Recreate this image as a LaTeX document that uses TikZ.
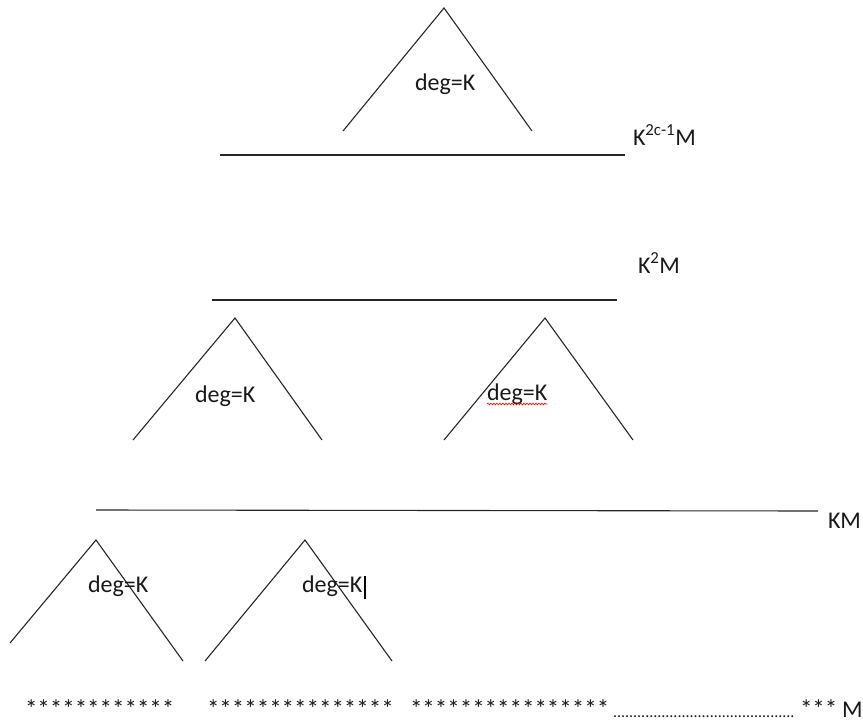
\documentclass[tikz,border=0pt]{standalone}
\usepackage{fontspec}
\setmainfont{Carlito}
\usetikzlibrary{decorations.pathmorphing}
\begin{document}
\begin{tikzpicture}[x=1pt,y=-1pt,
  edge/.style={draw=black!85,line width=1.1pt},
  lbl/.style={anchor=base west,inner sep=0pt,outer sep=0pt,font=\fontsize{24}{28}\selectfont,text=black!90},
  starlbl/.style={lbl,font=\fontsize{25}{28}\selectfont},
  dotlbl/.style={anchor=base west,inner sep=0pt,outer sep=0pt,font=\fontsize{16}{18}\selectfont,text=black!90}]
\useasboundingbox (0,0) rectangle (863,723);
% triangles
\coordinate (t1a) at (444,8);   \coordinate (t1l) at (343,131); \coordinate (t1r) at (532,131);
\coordinate (t2a) at (235,318); \coordinate (t2l) at (133,440); \coordinate (t2r) at (322,440);
\coordinate (t3a) at (545,318); \coordinate (t3l) at (444,440); \coordinate (t3r) at (633,440);
\coordinate (t4a) at (96,540);  \coordinate (t4l) at (10,643);  \coordinate (t4r) at (183,661);
\coordinate (t5a) at (305,540); \coordinate (t5l) at (205,661); \coordinate (t5r) at (392,661);
\draw[edge] (t1l) -- (t1a) -- (t1r);
\draw[edge] (t2l) -- (t2a) -- (t2r);
\draw[edge] (t3l) -- (t3a) -- (t3r);
\draw[edge] (t4l) -- (t4a) -- (t4r);
\draw[edge] (t5l) -- (t5a) -- (t5r);
% level lines
\coordinate (l1a) at (220,155); \coordinate (l1b) at (625,155);
\coordinate (l2a) at (212,300); \coordinate (l2b) at (617,300);
\coordinate (l3a) at (96,510);  \coordinate (l3b) at (818,511);
\draw[edge] (l1a) -- (l1b);
\draw[edge] (l2a) -- (l2b);
\draw[edge] (l3a) -- (l3b);
% degree labels
\node[lbl] (d1) at (415,90) {deg=K};
\node[lbl] (d2) at (195,402) {deg=K};
\node[lbl] (d3) at (487,400) {deg=K};
\node[lbl] (d4) at (88,592) {deg=K};
\node[lbl] (d5) at (302,592) {deg=K};
\draw[red,line width=0.6pt,decorate,decoration={snake,amplitude=0.9pt,segment length=3pt}] ([yshift=-4pt]d3.base west) -- ([yshift=-4pt]d3.base east);
\draw[black,line width=1.6pt] ([xshift=3pt,yshift=16pt]d5.base east) -- ([xshift=3pt,yshift=-7pt]d5.base east);
% level labels
\node[lbl] (k1) at (633,145) {K\textsuperscript{2c-1}M};
\node[lbl] (k2) at (638,273) {K\textsuperscript{2}M};
\node[lbl] (k3) at (828,528) {KM};
% bottom row
\node[starlbl] (s1) at (25,717) {************};
\node[starlbl] (s2) at (207,717) {***************};
\node[starlbl] (s3) at (410,717) {****************};
\node[dotlbl] (dots) at (613,717) {.............................................};
\node[starlbl] (s4) at (800,717) {***};
\node[lbl] (m) at (842,717) {M};
\end{tikzpicture}
\end{document}
